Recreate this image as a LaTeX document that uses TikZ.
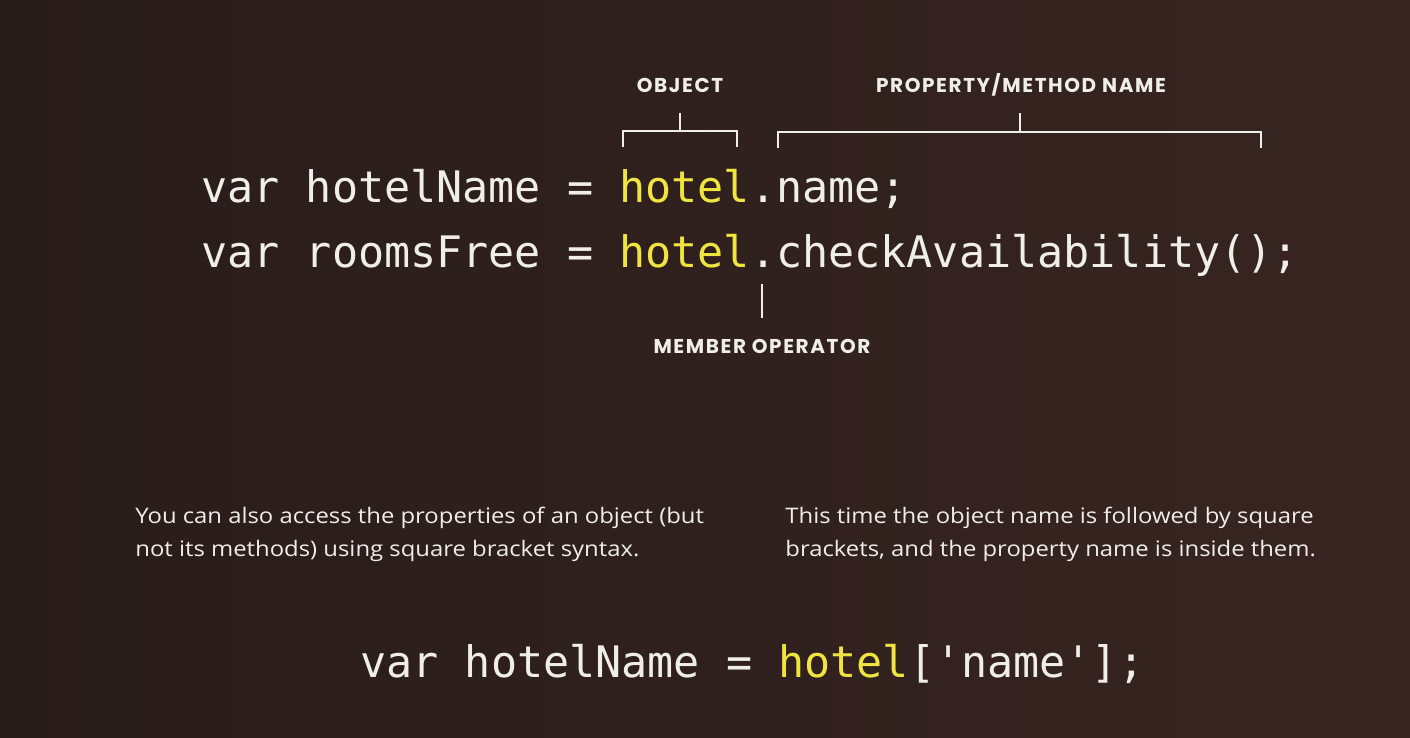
\documentclass[tikz,border=0pt]{standalone}
\usepackage{fontspec}
\newfontfamily\codefont{DejaVu Sans Mono}
\newfontfamily\parafont[FakeStretch=1.115]{Open Sans}
\newfontfamily\labfont[LetterSpace=8]{Poppins}
\definecolor{bgl}{RGB}{40,28,26}
\definecolor{bgr}{RGB}{56,37,33}
\definecolor{fg}{RGB}{240,238,232}
\definecolor{hl}{RGB}{240,228,64}
\begin{document}
\begin{tikzpicture}[x=0.5pt,y=-0.5pt,
 code/.style={anchor=base west, inner sep=0, text=fg, font=\codefont\fontsize{21.7pt}{26pt}\selectfont},
 para/.style={anchor=base west, inner sep=0, text=fg, font=\parafont\fontsize{10.7pt}{13pt}\selectfont},
 lab/.style={anchor=base, inner sep=0, text=fg, font=\labfont\bfseries\fontsize{10pt}{12pt}\selectfont},
 brk/.style={draw=fg, line width=1.4pt}]
\useasboundingbox (0,0) rectangle (1410,738);
\shade[left color=bgl, right color=bgr] (0,0) rectangle (1410,738);

% labels
\node[lab] (object) at (680,93) {OBJECT};
\node[lab] (propname) at (1021,93) {PROPERTY/METHOD NAME};
\node[lab] (member) at (762,353) {MEMBER OPERATOR};

% code
\node[code] (line1) at (201,203) {var hotelName = \textcolor{hl}{hotel}.name;};
\node[code] (line2) at (201,268) {var roomsFree = \textcolor{hl}{hotel}.checkAvailability();};
\node[code] (line3) at (360,677) {var hotelName = \textcolor{hl}{hotel}['name'];};

% brackets
\coordinate (ob1) at (623,147);
\coordinate (ob2) at (623,131);
\coordinate (ob3) at (737,131);
\coordinate (ob4) at (737,147);
\coordinate (obm) at (680,131);
\coordinate (obt) at (680,113);
\draw[brk] (ob1) -- (ob2) -- (ob3) -- (ob4);
\draw[brk] (obm) -- (obt);

\coordinate (pb1) at (778,148);
\coordinate (pb2) at (778,132);
\coordinate (pb3) at (1261,132);
\coordinate (pb4) at (1261,148);
\coordinate (pbm) at (1020,132);
\coordinate (pbt) at (1020,113);
\draw[brk] (pb1) -- (pb2) -- (pb3) -- (pb4);
\draw[brk] (pbm) -- (pbt);

\coordinate (mo1) at (762,284);
\coordinate (mo2) at (762,318);
\draw[brk] (mo1) -- (mo2);

% paragraphs
\node[para] (p1a) at (135,523) {You can also access the properties of an object (but};
\node[para] (p1b) at (135,556) {not its methods) using square bracket syntax.};
\node[para] (p2a) at (785,523) {This time the object name is followed by square};
\node[para] (p2b) at (785,556) {brackets, and the property name is inside them.};
\end{tikzpicture}
\end{document}
